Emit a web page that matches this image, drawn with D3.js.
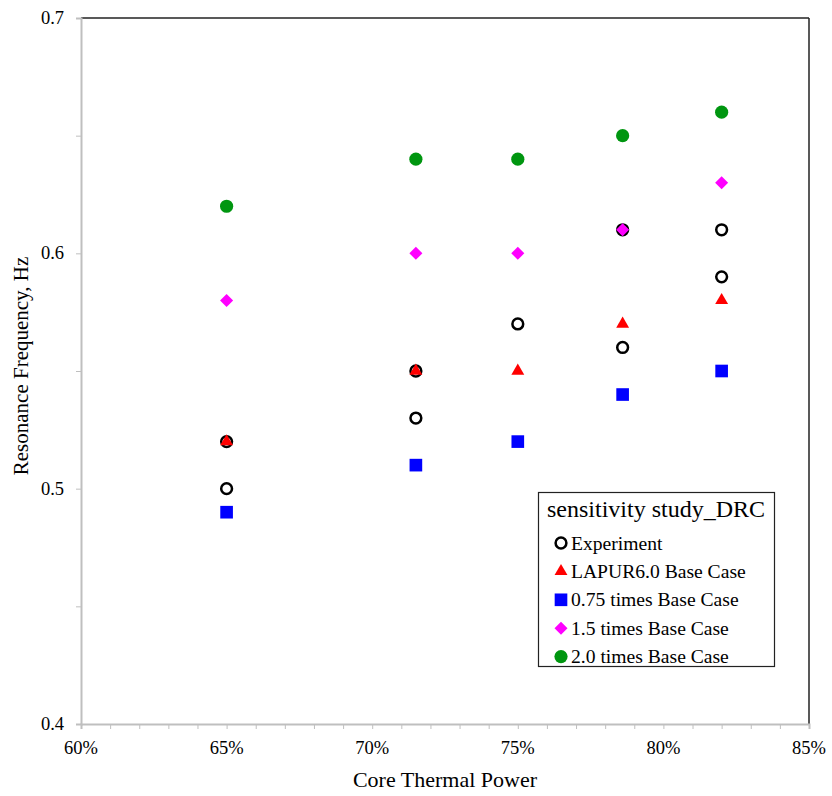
<!DOCTYPE html>
<html><head><meta charset="utf-8">
<script src="https://cdn.jsdelivr.net/npm/d3@7"></script>
<style>body{margin:0;background:#fff}svg{display:block}text{font-family:"Liberation Serif","Times New Roman",serif}</style>
</head><body><svg id="c" width="832" height="796"></svg>
<script>
const xTicks = [60, 65, 70, 75, 80, 85];
const yTicks = [0.4, 0.5, 0.6, 0.7];
const expX = [65, 65, 71.5, 71.5, 75, 78.6, 78.6, 82, 82];
const expY = [0.52, 0.50, 0.55, 0.53, 0.57, 0.61, 0.56, 0.61, 0.59];
const simX = [65, 71.5, 75, 78.6, 82];
const lapurY = [0.52, 0.55, 0.55, 0.57, 0.58];
const x075Y = [0.49, 0.51, 0.52, 0.54, 0.55];
const x15Y = [0.58, 0.60, 0.60, 0.61, 0.63];
const x20Y = [0.62, 0.64, 0.64, 0.65, 0.66];
const seriesNames = ["Experiment", "LAPUR6.0 Base Case", "0.75 times Base Case", "1.5 times Base Case", "2.0 times Base Case"];
const legendTitle = "sensitivity study_DRC";

const svg = d3.select("#c");
const L = 81, R = 809, T = 18, B = 724;
const x = d3.scaleLinear().domain([60, 85]).range([L, R]);
const y = d3.scaleLinear().domain([0.4, 0.7]).range([B, T]);
const axisGray = "#bfbfbf";

// frame top/right
svg.append("line").attr("x1", L).attr("x2", R).attr("y1", T).attr("y2", T).attr("stroke", "#222").attr("stroke-width", 1.5);
svg.append("line").attr("x1", R).attr("x2", R).attr("y1", T).attr("y2", B).attr("stroke", "#222").attr("stroke-width", 1.5);

// x axis
const gx = svg.append("g").attr("transform", `translate(0,${B})`)
  .call(d3.axisBottom(x).tickValues(d3.range(60, 86, 1)).tickSize(5).tickFormat(""));
gx.select(".domain").attr("stroke", axisGray).attr("stroke-width", 2);
gx.selectAll(".tick line").attr("stroke", axisGray).attr("stroke-width", 1);
xTicks.forEach(v => svg.append("text").attr("x", x(v)).attr("y", B + 30).attr("text-anchor", "middle")
  .attr("font-size", 18.5).attr("fill", "#000").text(v + "%"));

// y axis
const gy = svg.append("g").attr("transform", `translate(${L},0)`)
  .call(d3.axisLeft(y).tickValues(d3.range(0.4, 0.7001, 0.05)).tickSize(5).tickFormat(""));
gy.select(".domain").attr("stroke", axisGray).attr("stroke-width", 2);
gy.selectAll(".tick line").attr("stroke", axisGray).attr("stroke-width", 1);
yTicks.forEach(v => svg.append("text").attr("x", L - 17).attr("y", y(v) + 6).attr("text-anchor", "end")
  .attr("font-size", 18.5).attr("fill", "#000").text(v.toFixed(1)));

// axis titles
svg.append("text").attr("x", 445).attr("y", 787).attr("text-anchor", "middle").attr("font-size", 22).text("Core Thermal Power");
svg.append("text").attr("transform", `translate(28,366) rotate(-90)`).attr("text-anchor", "middle").attr("font-size", 21).text("Resonance Frequency, Hz");

// markers
const diamond = d3.symbol().type(d3.symbolSquare).size(85)();
const styles = [
  {d: d3.symbol().type(d3.symbolCircle).size(Math.PI * 5.4 * 5.4)(), fill: "none", stroke: "#000", sw: 2.5, rot: 0},
  {d: d3.symbol().type(d3.symbolTriangle).size(72)(), fill: "#ff0000", stroke: "none", sw: 0, rot: 0},
  {d: d3.symbol().type(d3.symbolSquare).size(160)(), fill: "#0000ff", stroke: "none", sw: 0, rot: 0},
  {d: diamond, fill: "#ff00ff", stroke: "none", sw: 0, rot: 45},
  {d: d3.symbol().type(d3.symbolCircle).size(Math.PI * 6.6 * 6.6)(), fill: "#009610", stroke: "none", sw: 0, rot: 0}
];
function plot(xs, ys, st) {
  svg.append("g").selectAll("path").data(ys).join("path")
    .attr("transform", (d, i) => `translate(${x(xs[i])},${y(d)}) rotate(${st.rot})`)
    .attr("d", st.d).attr("fill", st.fill).attr("stroke", st.stroke).attr("stroke-width", st.sw);
}
plot(expX, expY, styles[0]);
plot(simX, lapurY, styles[1]);
plot(simX, x075Y, styles[2]);
plot(simX, x15Y, styles[3]);
plot(simX, x20Y, styles[4]);

// legend
const lg = svg.append("g");
lg.append("rect").attr("x", 538.5).attr("y", 492.5).attr("width", 236).attr("height", 174)
  .attr("fill", "#fff").attr("stroke", "#222").attr("stroke-width", 1.2);
lg.append("text").attr("x", 547).attr("y", 517).attr("font-size", 24).text(legendTitle);
seriesNames.forEach((n, i) => {
  const cy = 543 + i * 28.4;
  lg.append("path").attr("transform", `translate(561,${cy}) rotate(${styles[i].rot})`).attr("d", styles[i].d)
    .attr("fill", styles[i].fill).attr("stroke", styles[i].stroke).attr("stroke-width", styles[i].sw);
  lg.append("text").attr("x", 571).attr("y", cy + 6.5).attr("font-size", 19.6).text(n);
});
</script></body></html>
